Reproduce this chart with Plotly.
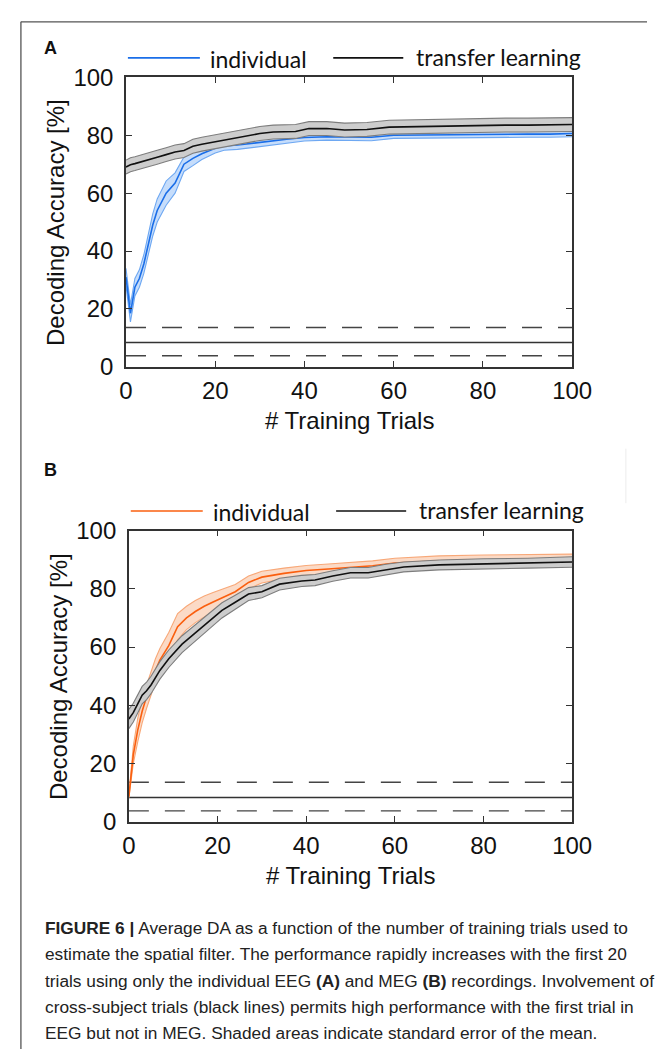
import plotly.graph_objects as go

W, H = 667, 1062

# ---------------- data ----------------
# Panel A (EEG)
a_ind_x = [0, 1, 2, 3, 4, 5, 6, 7, 9, 11, 13, 15, 17, 20, 22, 25, 28, 30, 33, 36, 40, 45, 50, 55, 60, 65, 70, 75, 80, 85, 90, 95, 100]
a_ind_mean = [31.0, 18.5, 27.5, 30.5, 35.5, 42.0, 49.0, 54.0, 60.0, 63.5, 70.0, 72.0, 73.6, 75.5, 76.3, 76.6, 77.2, 77.6, 78.0, 78.6, 79.2, 79.5, 79.4, 79.3, 80.0, 80.1, 80.1, 80.2, 80.3, 80.3, 80.4, 80.4, 80.6]
a_ind_se = [3.0, 3.0, 3.0, 3.0, 3.2, 3.5, 3.8, 4.0, 4.2, 3.5, 2.5, 2.5, 2.0, 1.6, 1.5, 1.5, 1.5, 1.4, 1.3, 1.3, 1.2, 1.2, 1.2, 1.2, 1.1, 1.1, 1.1, 1.1, 1.1, 1.1, 1.1, 1.1, 1.1]

a_tl_x = [0, 1, 2, 3, 5, 7, 9, 11, 13, 15, 17, 20, 22, 25, 28, 30, 33, 38, 41, 45, 49, 54, 59, 65, 70, 75, 80, 85, 90, 95, 100]
a_tl_mean = [69.0, 69.8, 70.2, 70.6, 71.6, 72.4, 73.3, 74.2, 74.7, 76.2, 76.9, 77.8, 78.4, 79.2, 80.0, 80.6, 81.1, 81.3, 82.3, 82.3, 81.8, 82.0, 82.8, 83.0, 83.2, 83.3, 83.4, 83.5, 83.5, 83.6, 83.7]
a_tl_se = [2.4] * len(a_tl_x)

# Panel B (MEG)
b_ind_x = [0, 1, 2, 3, 4, 5, 6, 7, 9, 11, 13, 15, 17, 19, 22, 24, 27, 30, 35, 40, 45, 50, 55, 60, 70, 80, 90, 100]
b_ind_mean = [8.7, 23.0, 31.5, 38.0, 43.0, 47.5, 52.0, 55.5, 60.5, 67.0, 70.0, 72.2, 74.0, 75.5, 77.5, 79.0, 82.2, 84.0, 85.3, 86.3, 86.8, 87.4, 87.9, 88.8, 89.6, 89.9, 90.1, 90.2]
b_ind_se = [0.5, 3.0, 4.0, 4.0, 4.0, 4.0, 4.0, 4.0, 4.5, 4.5, 4.0, 3.8, 3.5, 3.2, 2.8, 2.5, 2.2, 2.0, 1.8, 1.7, 1.7, 1.7, 1.7, 1.7, 1.7, 1.7, 1.7, 1.7]

b_tl_x = [0, 1, 2, 3, 4, 5, 7, 9, 12, 15, 18, 21, 24, 27, 30, 34, 39, 42, 46, 50, 54, 58, 62, 70, 80, 90, 100]
b_tl_mean = [35.3, 37.5, 40.5, 43.5, 45.0, 47.0, 52.0, 56.0, 61.0, 64.9, 68.8, 72.6, 75.4, 78.2, 79.0, 81.6, 82.7, 83.0, 84.4, 85.5, 85.5, 86.6, 87.5, 88.2, 88.6, 88.8, 89.2]
b_tl_se = [3.3, 3.2, 3.1, 3.0, 3.0, 3.0, 3.0, 3.0, 2.9, 2.8, 2.7, 2.6, 2.4, 2.2, 2.1, 2.0, 1.9, 1.9, 1.8, 1.8, 1.8, 1.8, 1.7, 1.7, 1.7, 1.7, 1.8]

# chance level (solid) and its significance bounds (dashed)
chance_level = 8.4
chance_bounds = [13.6, 3.8]
chance_x = [0, 100]

ticks = [0, 20, 40, 60, 80, 100]
legend_labels = ["individual", "transfer learning"]
panel_labels = ["A", "B"]
x_title = "# Training Trials"
y_title = "Decoding Accuracy [%]"
caption_lines = [
    "<b>FIGURE 6 |</b> Average DA as a function of the number of training trials used to",
    "estimate the spatial filter. The performance rapidly increases with the first 20",
    "trials using only the individual EEG <b>(A)</b> and MEG <b>(B)</b> recordings. Involvement of",
    "cross-subject trials (black lines) permits high performance with the first trial in",
    "EEG but not in MEG. Shaded areas indicate standard error of the mean.",
]

# ---------------- styles ----------------
BLUE = dict(line="#1a6ee8", edge="#6ea8f2", fill="#c6ddfb")
ORANGE = dict(line="#fa5f0f", edge="#f8a878", fill="#fbdac6")
GRAY = dict(line="#111111", edge="#7d7d7d", fill="#cdcdcd")

fig = go.Figure()


def band(x, mean, se, col, xa, ya):
    up = [m + s for m, s in zip(mean, se)]
    lo = [m - s for m, s in zip(mean, se)]
    fig.add_trace(go.Scatter(x=x + x[::-1], y=up + lo[::-1], fill="toself", fillcolor=col["fill"],
                             line=dict(width=0), mode="lines", hoverinfo="skip", showlegend=False,
                             xaxis=xa, yaxis=ya))
    fig.add_trace(go.Scatter(x=x, y=up, mode="lines", line=dict(color=col["edge"], width=1.1),
                             showlegend=False, xaxis=xa, yaxis=ya))
    fig.add_trace(go.Scatter(x=x, y=lo, mode="lines", line=dict(color=col["edge"], width=1.1),
                             showlegend=False, xaxis=xa, yaxis=ya))
    fig.add_trace(go.Scatter(x=x, y=mean, mode="lines", line=dict(color=col["line"], width=1.6),
                             showlegend=False, xaxis=xa, yaxis=ya))


def chance(xa, ya):
    fig.add_trace(go.Scatter(x=chance_x, y=[chance_level] * 2, mode="lines",
                             line=dict(color="#333333", width=1.4), showlegend=False, xaxis=xa, yaxis=ya))
    for b in chance_bounds:
        fig.add_trace(go.Scatter(x=chance_x, y=[b] * 2, mode="lines",
                                 line=dict(color="#444444", width=1.4, dash="20px,16px"),
                                 showlegend=False, xaxis=xa, yaxis=ya))


chance("x", "y")
band(a_ind_x, a_ind_mean, a_ind_se, BLUE, "x", "y")
band(a_tl_x, a_tl_mean, a_tl_se, GRAY, "x", "y")

chance("x2", "y2")
band(b_ind_x, b_ind_mean, b_ind_se, ORANGE, "x2", "y2")
band(b_tl_x, b_tl_mean, b_tl_se, GRAY, "x2", "y2")


def px(x):
    return x / W


def py(y):
    return 1 - y / H


panels = [
    # axis-left, axis-right, axis-top, axis-bottom (pixels)
    dict(l=124, r=589, t=65, b=362, col=BLUE, leg_y=45, label_xy=(45, 35), ytitle_x=50),
    dict(l=127, r=589, t=530, b=829, col=ORANGE, leg_y=510, label_xy=(45, 468), ytitle_x=53),
]

axis_common = dict(range=[0, 100], tickvals=ticks, ticks="inside", ticklen=6, tickwidth=1.3,
                   tickcolor="#333333", showline=True, linecolor="#333333", linewidth=1.5,
                   mirror="ticks", showgrid=False, zeroline=False,
                   tickfont=dict(family="Liberation Sans, Arial", size=24, color="#111111"))

layout = dict(width=W, height=H, margin=dict(l=0, r=0, t=0, b=0), paper_bgcolor="white",
              plot_bgcolor="white", showlegend=False)
shapes = []
annotations = []
for i, p in enumerate(panels):
    sfx = "" if i == 0 else str(i + 1)
    layout["xaxis" + sfx] = dict(axis_common, domain=[px(p["l"]), px(p["r"])], anchor="y" + sfx,
                                 ticklabelstandoff=2)
    layout["yaxis" + sfx] = dict(axis_common, domain=[py(p["b"]), py(p["t"])], anchor="x" + sfx,
                                 ticklabelstandoff=6)
    # legend (line samples + text)
    ly = py(p["leg_y"])
    shapes.append(dict(type="line", xref="paper", yref="paper", x0=px(p["l"] + 2), x1=px(p["l"] + 77),
                       y0=ly, y1=ly, line=dict(color=p["col"]["line"], width=1.6)))
    shapes.append(dict(type="line", xref="paper", yref="paper", x0=px(p["l"] + 216), x1=px(p["l"] + 289),
                       y0=ly, y1=ly, line=dict(color="#111111", width=1.6)))
    annotations.append(dict(text=legend_labels[0], xref="paper", yref="paper", x=px(p["l"] + 86),
                            y=py(p["leg_y"] + 1), xanchor="left", yanchor="middle", showarrow=False,
                            font=dict(family="Lato", size=23, color="#111111")))
    annotations.append(dict(text=legend_labels[1], xref="paper", yref="paper", x=px(p["l"] + 300),
                            y=py(p["leg_y"] - 1), xanchor="left", yanchor="middle", showarrow=False,
                            font=dict(family="Lato", size=23, color="#111111")))
    # panel label
    annotations.append(dict(text="<b>%s</b>" % panel_labels[i], xref="paper", yref="paper",
                            x=px(p["label_xy"][0]), y=py(p["label_xy"][1]), xanchor="center",
                            yanchor="middle", showarrow=False,
                            font=dict(family="Liberation Sans, Arial", size=18, color="#111111")))
    # axis titles
    annotations.append(dict(text=x_title, xref="paper", yref="paper", x=px((p["l"] + p["r"]) / 2),
                            y=py(p["b"] + 55), xanchor="center", yanchor="middle", showarrow=False,
                            font=dict(family="Liberation Sans, Arial", size=24, color="#111111")))
    annotations.append(dict(text=y_title, xref="paper", yref="paper", x=px(p["ytitle_x"]),
                            y=py((p["t"] + p["b"]) / 2), xanchor="center", yanchor="middle",
                            textangle=-90, showarrow=False,
                            font=dict(family="Liberation Sans, Arial", size=24, color="#111111")))

# caption
for k, line in enumerate(caption_lines):
    annotations.append(dict(text=line, xref="paper", yref="paper", x=px(38), y=py(938 + 27 * k),
                            xanchor="left", yanchor="middle", showarrow=False,
                            font=dict(family="Liberation Sans, Arial", size=17.3, color="#222222")))

# outer frame
shapes.append(dict(type="line", xref="paper", yref="paper", x0=px(14.5), x1=1, y0=py(8), y1=py(8),
                   line=dict(color="#555555", width=1.3)))
shapes.append(dict(type="line", xref="paper", yref="paper", x0=px(14.5), x1=px(14.5), y0=py(8), y1=0,
                   line=dict(color="#555555", width=1.3)))
shapes.append(dict(type="line", xref="paper", yref="paper", x0=px(645), x1=px(645), y0=py(446), y1=py(502),
                   line=dict(color="#ececec", width=1)))

layout["shapes"] = shapes
layout["annotations"] = annotations
fig.update_layout(**layout)
fig.write_html("out.html")
